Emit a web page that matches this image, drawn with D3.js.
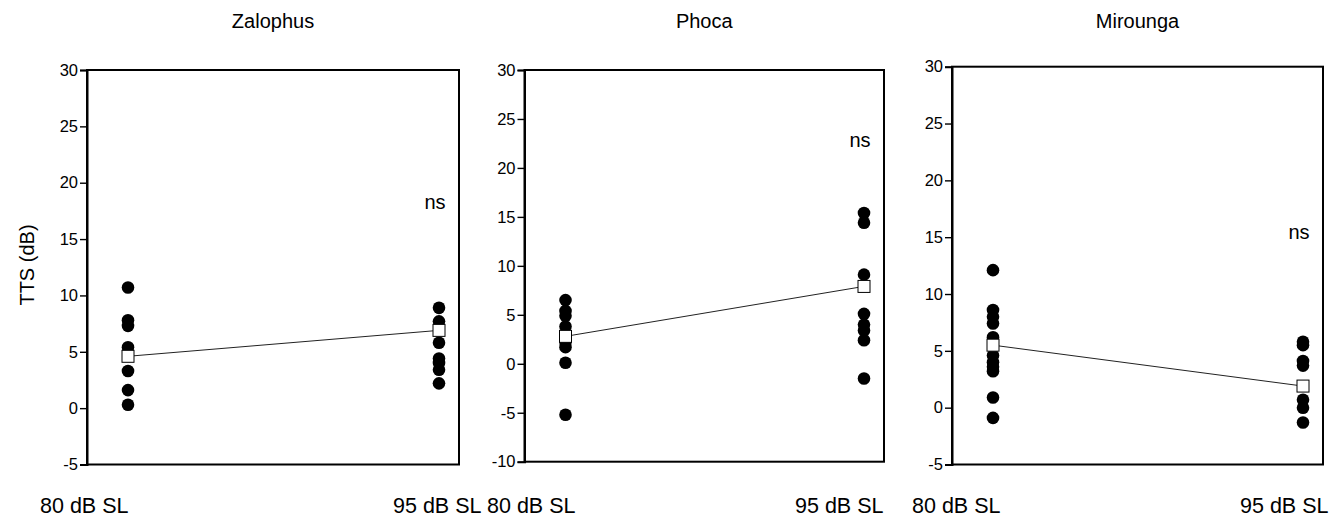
<!DOCTYPE html>
<html><head><meta charset="utf-8">
<script src="https://cdn.jsdelivr.net/npm/d3@7"></script>
<style>
html,body{margin:0;padding:0;background:#fff;}
svg text{font-family:"Liberation Sans",Arial,sans-serif;fill:#000;}
</style></head>
<body><svg id="c" width="1337" height="525"></svg>
<script>
// ---- data ----
const species = ["Zalophus", "Phoca", "Mirounga"];
const levels = ["80 dB SL", "95 dB SL"];
const zalophus80 = [10.7, 7.8, 7.3, 5.4, 3.3, 1.6, 0.3];
const zalophus95 = [8.9, 7.7, 5.8, 4.4, 4.0, 3.4, 2.2];
const zalophusMean = [4.6, 6.9];
const phoca80 = [6.5, 5.4, 4.9, 3.8, 2.2, 1.7, 0.1, -5.2];
const phoca95 = [15.4, 14.4, 9.1, 5.1, 4.0, 3.4, 2.4, -1.5];
const phocaMean = [2.8, 7.9];
const mirounga80 = [12.1, 8.6, 8.0, 7.4, 6.2, 4.6, 4.0, 3.6, 3.2, 0.9, -0.9];
const mirounga95 = [5.8, 5.5, 4.1, 3.7, 0.7, 0.0, -1.3];
const miroungaMean = [5.5, 1.9];
const yDomains = [[-5, 30], [-10, 30], [-5, 30]];
const yTicks = [[-5, 0, 5, 10, 15, 20, 25, 30], [-10, -5, 0, 5, 10, 15, 20, 25, 30], [-5, 0, 5, 10, 15, 20, 25, 30]];
const nsValue = [18.3, 22.9, 15.45];
const yLabel = "TTS (dB)";

// ---- layout ----
const panels = [
  {l: 87, r: 459, t: 70, b: 464.5, a: zalophus80, c: zalophus95, m: zalophusMean},
  {l: 524.5, r: 884, t: 70, b: 461.7, a: phoca80, c: phoca95, m: phocaMean},
  {l: 952, r: 1323, t: 66.7, b: 464.5, a: mirounga80, c: mirounga95, m: miroungaMean}
];
const labelX = [[40, 393], [487, 795], [912, 1240]];

const svg = d3.select("#c");

panels.forEach((p, i) => {
  const g = svg.append("g");
  const y = d3.scaleLinear().domain(yDomains[i]).range([p.b, p.t]);
  const x = d3.scalePoint().domain(levels).range([p.l + 41, p.r - 20]);

  // frame
  g.append("rect").attr("x", p.l).attr("y", p.t).attr("width", p.r - p.l).attr("height", p.b - p.t)
    .attr("fill", "none").attr("stroke", "#000").attr("stroke-width", 2);

  // y axis
  const ax = g.append("g").attr("transform", `translate(${p.l},0)`)
    .call(d3.axisLeft(y).tickValues(yTicks[i]).tickSize(7).tickPadding(2).tickFormat(d => String(d)));
  ax.attr("font-size", null).attr("font-family", null);
  ax.select(".domain").attr("stroke-width", 2);
  ax.selectAll(".tick line").attr("stroke-width", 1.4);
  ax.selectAll(".tick text").style("font-size", "16.5px").style("font-family", "Liberation Sans, Arial, sans-serif");

  // title
  g.append("text").attr("x", (p.l + p.r) / 2).attr("y", 28).attr("text-anchor", "middle")
    .style("font-size", "20px").text(species[i]);

  // category labels
  levels.forEach((lv, j) => {
    g.append("text").attr("x", labelX[i][j]).attr("y", 513)
      .style("font-size", "21.5px").text(lv);
  });

  // points
  const pts = p.a.map(v => ({lv: levels[0], v})).concat(p.c.map(v => ({lv: levels[1], v})));
  g.selectAll("circle.pt").data(pts).enter().append("circle")
    .attr("cx", d => x(d.lv)).attr("cy", d => y(d.v)).attr("r", 6.3).attr("fill", "#000");

  // mean line
  const line = d3.line().x((d, j) => x(levels[j])).y(d => y(d));
  g.append("path").datum(p.m).attr("d", line).attr("fill", "none").attr("stroke", "#222").attr("stroke-width", 1);

  // mean squares
  g.selectAll("rect.mean").data(p.m).enter().append("rect")
    .attr("x", (d, j) => x(levels[j]) - 6).attr("y", d => y(d) - 6)
    .attr("width", 12).attr("height", 12).attr("fill", "#fff").attr("stroke", "#000").attr("stroke-width", 1);

  // ns
  g.append("text").attr("x", x(levels[1]) - 4).attr("y", y(nsValue[i])).attr("dy", "0.35em")
    .attr("text-anchor", "middle").style("font-size", "20px").text("ns");
});

// y label
svg.append("text").attr("transform", "translate(34,265) rotate(-90)").attr("text-anchor", "middle")
  .style("font-size", "20px").text(yLabel);
</script></body></html>
